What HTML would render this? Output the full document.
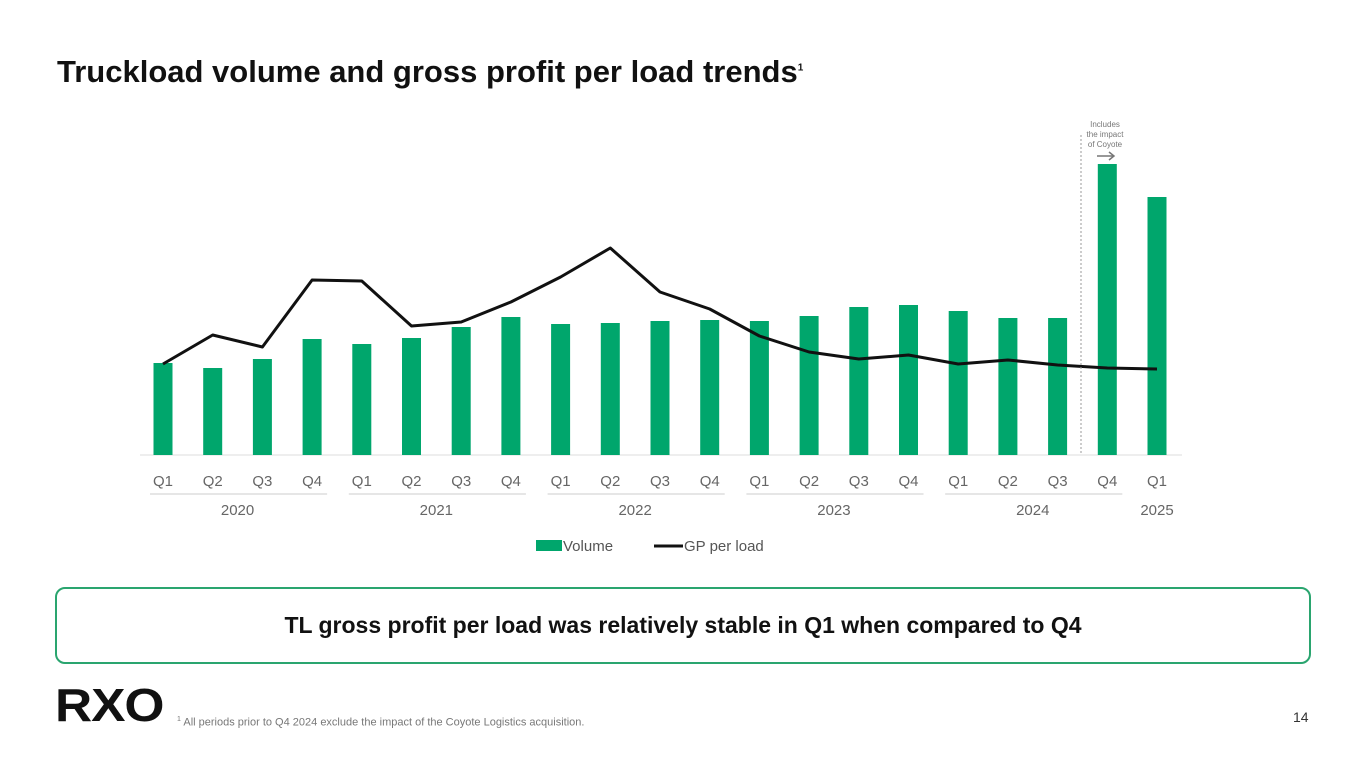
<!DOCTYPE html>
<html><head><meta charset="utf-8"><style>
body{margin:0;width:1365px;height:768px;background:#fff;font-family:"Liberation Sans",sans-serif;position:relative;overflow:hidden}
.title{position:absolute;left:57px;top:54px;font-size:31px;font-weight:bold;color:#111}
.box{position:absolute;left:55px;top:587px;width:1252px;height:73px;border:2px solid #2aa56f;border-radius:10px;display:flex;align-items:center;justify-content:center;font-size:23px;font-weight:bold;color:#111}
.logo{position:absolute;left:55px;top:678px;font-size:46px;font-weight:900;letter-spacing:-1px;color:#111;transform:scaleX(1.12);transform-origin:left top}
.foot{position:absolute;left:177px;top:716px;font-size:11px;color:#777}
.pg{position:absolute;left:1293px;top:709px;font-size:14px;color:#333}
</style></head><body>
<div class="title">Truckload volume and gross profit per load trends<sup style="font-size:10px">1</sup></div>
<svg id="chart" width="1365" height="580" style="position:absolute;left:0;top:0" font-family="Liberation Sans, sans-serif"></svg>
<div class="box">TL gross profit per load was relatively stable in Q1 when compared to Q4</div>
<div class="logo">RXO</div>
<div class="foot"><sup style="font-size:7px">1</sup> All periods prior to Q4 2024 exclude the impact of the Coyote Logistics acquisition.</div>
<div class="pg">14</div>
<script>
const quarters=["Q1","Q2","Q3","Q4","Q1","Q2","Q3","Q4","Q1","Q2","Q3","Q4","Q1","Q2","Q3","Q4","Q1","Q2","Q3","Q4","Q1"];
const years=["2020","2021","2022","2023","2024","2025"];
const volume=[92,87,96,116,111,117,128,138,131,132,134,135,134,139,148,150,144,137,137,291,258];
const gpPerLoad=[91,120,108,175,174,129,133,153,178,207,163,146,119,103,96,100,91,95,90,87,86];
const NS="http://www.w3.org/2000/svg";
const svg=document.getElementById('chart');
const x=i=>163+i*49.7;
const y=v=>455-v;
function mk(t,a){const e=document.createElementNS(NS,t);for(const k in a)e.setAttribute(k,a[k]);svg.appendChild(e);return e;}
let ax=mk('line',{x1:140,x2:1182,y1:455,y2:455,stroke:'#ddd'});


volume.forEach((v,i)=>{
 const r=mk('rect',{x:x(i)-9.5,y:y(v),width:19,height:v,fill:'#00a66c'});
 
 
});
const pl=mk('polyline',{points:gpPerLoad.map((v,i)=>x(i)+','+y(v)).join(' '),fill:'none',stroke:'#111','stroke-width':3,'stroke-linejoin':'round'});


quarters.forEach((q,i)=>{
 const t=mk('text',{x:x(i),y:486,'text-anchor':'middle','font-size':15,fill:'#666'});t.textContent=q;
 
 
});
years.forEach((yr,j)=>{
 const s=j*4,e=Math.min(s+3,20);
 if(j<5){const l=mk('line',{x1:x(s)-13,x2:x(e)+15,y1:494,y2:494,stroke:'#ccc'});
 
 }
 const t=mk('text',{x:(x(s)+x(e))/2,y:515,'text-anchor':'middle','font-size':15,fill:'#666'});t.textContent=yr;
 
 
});
const dv=mk('line',{x1:1081,x2:1081,y1:135,y2:455,stroke:'#999','stroke-dasharray':'2,2'});


["Includes","the impact","of Coyote"].forEach((s,k)=>{const t=mk('text',{x:1105,y:127+k*10,'text-anchor':'middle','font-size':8,fill:'#777'});t.textContent=s;
 
 });
const ar=mk('path',{d:'M1097 156 H1114 M1109 152 L1114 156 L1109 160',stroke:'#777','stroke-width':1.5,fill:'none'});


const lg1=mk('rect',{x:536,y:540,width:26,height:11,fill:'#00a66c'});


const lt1=mk('text',{x:563,y:551,'font-size':15,fill:'#555'});lt1.textContent='Volume';


const lg2=mk('line',{x1:654,x2:683,y1:546,y2:546,stroke:'#111','stroke-width':3});


const lt2=mk('text',{x:684,y:551,'font-size':15,fill:'#555'});lt2.textContent='GP per load';


</script>
</body></html>
